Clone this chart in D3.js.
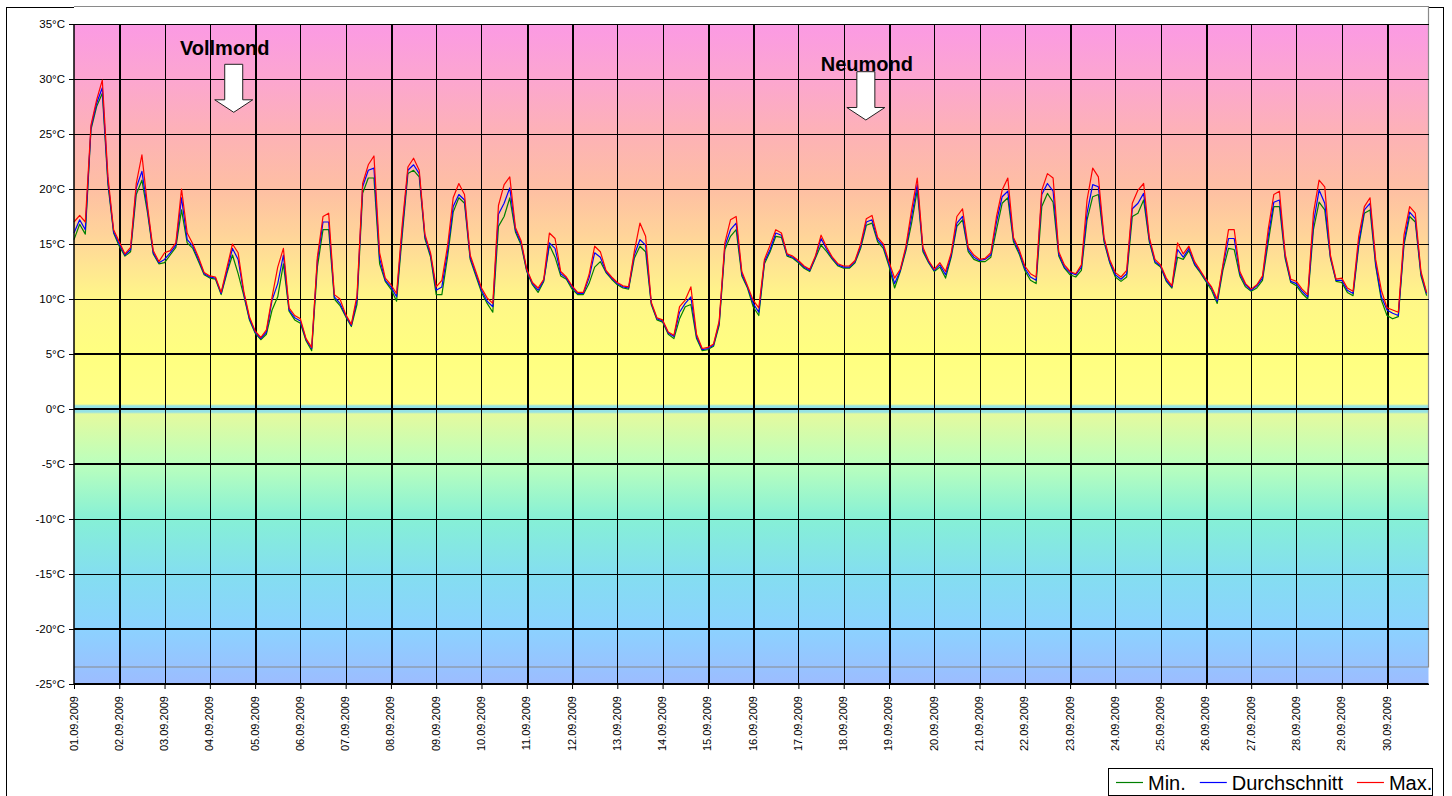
<!DOCTYPE html>
<html><head><meta charset="utf-8">
<script src="https://cdn.jsdelivr.net/npm/d3@7"></script>
<style>
html,body{margin:0;padding:0;background:#fff}
svg{display:block;font-family:"Liberation Sans",Arial,Helvetica,sans-serif}
</style>
</head><body>
<svg id="chart" width="1452" height="796"></svg>
<script>
// ---------- data (3-hourly readings, starting 01.09.2009 00:00) ----------
const startDay = "2009-09-01";
const lastTickDay = "2009-09-30";
const stepHours = 3;

const minVals = [
15.4,16.8,15.9,25.4,27.5,28.7,20.4,16.0,
14.8,13.9,14.3,19.5,20.8,17.8,14.1,13.2,
13.3,14.0,14.7,18.1,15.1,14.6,13.4,12.2,
11.9,11.8,10.4,12.3,14.0,12.3,10.3,8.1,
6.9,6.3,6.8,9.0,10.2,13.2,8.9,8.1,
7.8,6.2,5.3,12.9,16.3,16.3,10.0,9.4,
8.4,7.5,9.5,19.6,21.0,21.0,13.2,11.6,
10.9,9.8,15.8,21.4,21.7,21.1,15.5,13.8,
10.4,10.4,13.8,17.9,19.2,18.7,13.6,12.1,
10.6,9.6,8.8,16.6,17.5,19.2,16.1,14.9,
12.5,11.3,10.6,11.6,14.9,13.8,12.1,11.8,
10.9,10.4,10.4,11.4,12.9,13.4,12.4,11.8,
11.3,11.0,10.9,13.7,14.8,14.3,9.5,8.1,
7.9,6.8,6.4,8.2,9.3,9.5,6.4,5.3,
5.4,5.7,7.6,14.5,15.7,16.3,12.1,11.0,
9.3,8.5,13.2,14.3,15.7,15.6,13.9,13.7,
13.3,12.8,12.5,13.7,14.9,14.3,13.6,13.0,
12.8,12.8,13.3,14.6,16.7,16.9,15.2,14.6,
13.0,11.0,12.5,14.4,16.9,19.9,14.3,13.3,
12.5,12.9,11.9,13.8,16.6,17.2,14.3,13.6,
13.4,13.4,13.8,16.3,18.7,19.2,15.2,14.1,
12.6,11.7,11.4,18.4,19.6,18.8,13.9,12.8,
12.2,12.0,12.6,17.2,19.3,19.5,15.2,13.3,
12.0,11.6,12.0,17.5,17.8,19.0,15.2,13.3,
12.9,11.6,11.0,13.8,13.6,14.4,13.1,12.4,
11.6,10.8,9.6,12.6,14.6,14.5,12.1,11.1,
10.7,11.0,11.7,15.1,18.4,18.4,13.7,11.5,
11.2,10.5,10.0,16.3,18.8,18.1,13.7,11.6,
11.5,10.6,10.3,14.8,17.8,18.1,13.0,9.9,
8.5,8.2,8.4,14.9,17.5,17.0,12.1,10.3
];

const avgVals = [
16.0,17.2,16.3,25.6,27.8,29.2,20.7,16.1,
15.0,14.0,14.5,20.1,21.6,18.1,14.2,13.3,
13.6,14.2,14.9,19.2,15.4,14.8,13.6,12.3,
12.0,11.9,10.5,12.5,14.6,13.6,10.5,8.2,
7.0,6.4,7.0,9.9,11.4,14.0,9.0,8.3,
8.0,6.3,5.5,13.5,17.0,17.0,10.2,9.6,
8.5,7.6,9.9,20.2,21.7,21.9,13.7,11.7,
11.1,10.2,16.3,21.7,22.2,21.4,15.7,14.0,
10.8,11.1,14.3,18.4,19.5,19.0,13.8,12.3,
10.8,9.8,9.3,17.7,18.7,20.1,16.3,15.1,
12.6,11.4,10.8,11.7,15.1,14.6,12.3,11.9,
11.1,10.5,10.5,11.9,14.2,13.8,12.5,11.9,
11.4,11.1,11.0,14.0,15.4,14.9,9.6,8.2,
8.0,6.9,6.6,8.8,9.6,10.2,6.6,5.4,
5.5,5.8,7.8,14.8,16.3,16.9,12.3,11.1,
9.6,8.8,13.4,14.5,16.0,15.8,14.0,13.8,
13.4,12.9,12.6,13.8,15.5,14.5,13.7,13.1,
12.9,12.9,13.4,14.8,17.0,17.2,15.4,14.8,
13.2,11.4,12.6,14.6,17.5,20.4,14.5,13.4,
12.6,13.1,12.2,14.0,16.9,17.5,14.5,13.8,
13.5,13.6,14.0,17.0,19.3,19.8,15.4,14.3,
12.8,12.0,11.7,19.5,20.5,19.8,14.1,12.9,
12.4,12.2,12.9,17.8,20.4,20.2,15.4,13.4,
12.2,11.8,12.3,18.2,18.7,19.6,15.4,13.4,
13.0,11.7,11.1,14.5,13.8,14.6,13.2,12.5,
11.7,11.0,9.8,12.9,15.5,15.5,12.3,11.3,
10.8,11.2,11.9,15.7,18.8,19.0,13.9,11.6,
11.4,10.7,10.2,16.9,19.9,18.7,13.8,11.7,
11.7,10.8,10.5,15.1,18.1,18.7,13.2,10.2,
9.0,8.7,8.5,15.2,17.9,17.3,12.3,10.5
];

const maxVals = [
17.0,17.6,17.0,25.8,28.1,29.9,21.1,16.3,
15.2,14.1,14.7,20.5,23.1,18.4,14.4,13.4,
14.2,14.4,15.1,20.0,16.0,15.0,13.8,12.4,
12.1,12.0,10.6,12.8,15.0,14.2,10.7,8.4,
7.1,6.5,7.2,10.2,12.9,14.6,9.2,8.5,
8.2,6.4,5.6,13.8,17.5,17.8,10.4,10.0,
8.6,7.7,10.3,20.5,22.2,23.0,14.2,11.9,
11.3,10.5,16.8,22.0,22.8,21.7,15.9,14.2,
11.1,11.7,14.8,19.2,20.5,19.5,14.0,12.5,
11.0,10.1,9.6,18.5,20.4,21.1,16.5,15.3,
12.7,11.5,11.0,11.8,16.0,15.5,12.5,12.0,
11.2,10.6,10.6,12.2,14.8,14.3,12.6,12.0,
11.5,11.2,11.1,14.3,16.9,15.7,9.7,8.3,
8.1,7.0,6.7,9.3,9.9,11.1,6.8,5.5,
5.6,5.9,8.0,15.1,17.2,17.5,12.5,11.2,
9.9,9.2,13.6,14.9,16.3,16.0,14.1,13.9,
13.5,13.0,12.7,13.9,15.8,14.7,13.8,13.2,
13.0,13.0,13.5,15.0,17.3,17.6,15.6,15.0,
13.4,11.9,12.7,14.8,18.1,21.0,14.7,13.5,
12.7,13.3,12.5,14.2,17.5,18.2,14.7,14.0,
13.6,13.7,14.2,17.5,19.9,21.0,15.6,14.5,
13.0,12.3,12.0,19.9,21.4,21.0,14.3,13.1,
12.5,12.3,13.1,19.0,21.9,21.1,15.6,13.6,
12.4,12.0,12.6,18.7,19.9,20.5,15.6,13.6,
13.1,11.9,11.2,15.1,14.1,14.8,13.4,12.6,
11.8,11.1,10.0,13.1,16.3,16.3,12.5,11.4,
10.9,11.3,12.1,16.3,19.5,19.8,14.1,11.8,
11.6,10.9,10.4,17.8,20.8,20.2,14.0,11.8,
11.9,11.0,10.7,15.7,18.4,19.2,13.6,10.8,
9.2,9.0,8.8,15.8,18.4,17.8,12.5,10.6
];

const seriesNames = ["Min.", "Durchschnitt", "Max."];
const yTickValues = [35,30,25,20,15,10,5,0,-5,-10,-15,-20,-25];
const moonEvents = [
  {label: "Vollmond", time: "2009-09-04T12:40Z"},
  {label: "Neumond",  time: "2009-09-18T11:45Z"}
];

// ---------- styles / layout ----------
const seriesColors = ["#008000", "#0000ff", "#ff0000"];
const bgStops = [
  [35,"#fb9ae4"],[30,"#fca6d0"],[25,"#fdb2b6"],[20,"#febfa3"],[16,"#ffd39a"],
  [13,"#ffe592"],[10,"#fff788"],[5,"#ffff80"],[0.45,"#ffff88"],[0.28,"#96e2e4"],
  [-0.28,"#96e2e4"],[-0.45,"#e4fa9e"],[-5,"#bbffbd"],[-10,"#86f0d6"],
  [-15,"#84def0"],[-20,"#8cd2ff"],[-25,"#9cbcff"]
];
const boldHLines = [5, 0, -5, -20];
const boldVDays = [1, 4, 7, 10, 11, 14, 15, 18, 22, 25, 29];
const L = {left:74, right:1428.5, top:24, bottom:684, frameTop:6.5, frameBottom:667, xLast:1387};
const annotLayout = {
  Vollmond: {textDx:-9, textY:55, shaftTop:64.3, tip:112.3},
  Neumond:  {textDx:1,  textY:71, shaftTop:71.7, tip:120}
};

const svg = d3.select("#chart");
const startDate = new Date(startDay + "T00:00Z");
const x = d3.scaleUtc().domain([startDate, new Date(lastTickDay + "T00:00Z")]).range([L.left, L.xLast]);
const y = d3.scaleLinear().domain([-25, 35]).range([L.bottom, L.top]);
const timeAt = i => new Date(startDate.getTime() + i * stepHours * 3600e3);

// outer chart border
svg.append("rect").attr("x",6.5).attr("y",7.5).attr("width",1437).attr("height",800)
  .attr("fill","#fff").attr("stroke","#000").attr("stroke-width",1);

// background gradient
const defs = svg.append("defs");
const grad = defs.append("linearGradient").attr("id","bg").attr("gradientUnits","userSpaceOnUse")
  .attr("x1",0).attr("x2",0).attr("y1",y(35)).attr("y2",y(-25));
grad.selectAll("stop").data(bgStops).join("stop")
  .attr("offset", d => (35 - d[0]) / 60).attr("stop-color", d => d[1]);

svg.append("rect").attr("x",L.left).attr("y",L.frameTop).attr("width",L.right-L.left).attr("height",L.top-L.frameTop).attr("fill","#fff");
svg.append("rect").attr("x",L.left).attr("y",L.top).attr("width",L.right-L.left).attr("height",L.bottom-L.top).attr("fill","url(#bg)");

// plot-area frame (gray)
svg.append("path")
  .attr("d", `M${L.left},${L.frameTop}H${L.right}V${L.frameBottom}H${L.left}`)
  .attr("fill","none").attr("stroke","#8a8a8a").attr("stroke-width",1.2);

// grid
const dayTicks = d3.utcDay.range(startDate, new Date(new Date(lastTickDay + "T00:00Z").getTime() + 3600e3));
const grid = svg.append("g").attr("stroke","#000").attr("shape-rendering","crispEdges");
grid.selectAll("line.h").data(yTickValues).join("line").attr("class","h")
  .attr("x1",L.left).attr("x2",L.right).attr("y1",d=>y(d)).attr("y2",d=>y(d))
  .attr("stroke-width", d => boldHLines.includes(d) ? 2 : 1);
grid.selectAll("line.v").data(dayTicks.slice(1)).join("line").attr("class","v")
  .attr("x1",d=>Math.round(x(d))+0.5).attr("x2",d=>Math.round(x(d))+0.5).attr("y1",L.top).attr("y2",L.bottom)
  .attr("stroke-width", (d,i) => boldVDays.includes(i+1) ? 2 : 1);

// series
const series = [minVals, avgVals, maxVals];
const line = d3.line().x((d,i)=>x(timeAt(i))).y(d=>y(d));
svg.append("g").selectAll("path").data(series).join("path")
  .attr("d", d => line(d)).attr("fill","none")
  .attr("stroke",(d,i)=>seriesColors[i]).attr("stroke-width",1.2).attr("stroke-linejoin","round");

// annotations
moonEvents.forEach(ev => {
  const a = annotLayout[ev.label];
  const cx = x(new Date(ev.time));
  const hw = 9, ww = 19, headY = a.tip - 12.5;
  svg.append("path")
    .attr("d", `M${cx-hw},${a.shaftTop}H${cx+hw}V${headY}H${cx+ww}L${cx},${a.tip}L${cx-ww},${headY}H${cx-hw}Z`)
    .attr("fill","#fff").attr("stroke","#222").attr("stroke-width",1);
  svg.append("text").attr("x", cx + a.textDx).attr("y", a.textY).attr("text-anchor","middle")
    .attr("font-size",20).attr("font-weight","bold").attr("fill","#000").text(ev.label);
});

// axes
const yAxis = d3.axisLeft(y).tickValues(yTickValues).tickSize(5).tickPadding(4).tickFormat(d => d + "°C");
const gy = svg.append("g").attr("transform",`translate(${L.left},0)`).call(yAxis);
gy.select(".domain").remove();
gy.selectAll("text").attr("font-size",11.5).attr("fill","#000").attr("font-family",null);
gy.selectAll(".tick line").attr("stroke","#000");

const xAxis = d3.axisBottom(x).tickValues(dayTicks).tickSize(5).tickFormat(d3.utcFormat("%d.%m.%Y"));
const gx = svg.append("g").attr("transform",`translate(0,${L.bottom})`).call(xAxis);
gx.select(".domain").remove();
gx.selectAll(".tick line").attr("stroke","#000");
gx.selectAll("text").attr("font-size",11).attr("fill","#000").attr("font-family",null)
  .attr("transform","rotate(-90)").attr("text-anchor","end").attr("x",-12).attr("y",3).attr("dy","0");

svg.append("line").attr("x1",L.left).attr("x2",L.left).attr("y1",L.top).attr("y2",L.bottom).attr("stroke","#000").attr("stroke-width",1.5);
svg.append("line").attr("x1",L.left).attr("x2",L.right).attr("y1",L.bottom).attr("y2",L.bottom).attr("stroke","#000").attr("stroke-width",2);

// legend
const lg = svg.append("g");
lg.append("rect").attr("x",1108.5).attr("y",768.5).attr("width",324).attr("height",27)
  .attr("fill","#fff").attr("stroke","#000").attr("stroke-width",1);
let lx = 1116;
seriesNames.forEach((name, i) => {
  lg.append("line").attr("x1",lx).attr("x2",lx+27).attr("y1",782.5).attr("y2",782.5)
    .attr("stroke",seriesColors[i]).attr("stroke-width",1.2);
  const t = lg.append("text").attr("x",lx+32).attr("y",789.5).attr("font-size",20).attr("fill","#000").text(name);
  lx = lx + 32 + t.node().getComputedTextLength() + 14;
});
</script>
</body></html>
